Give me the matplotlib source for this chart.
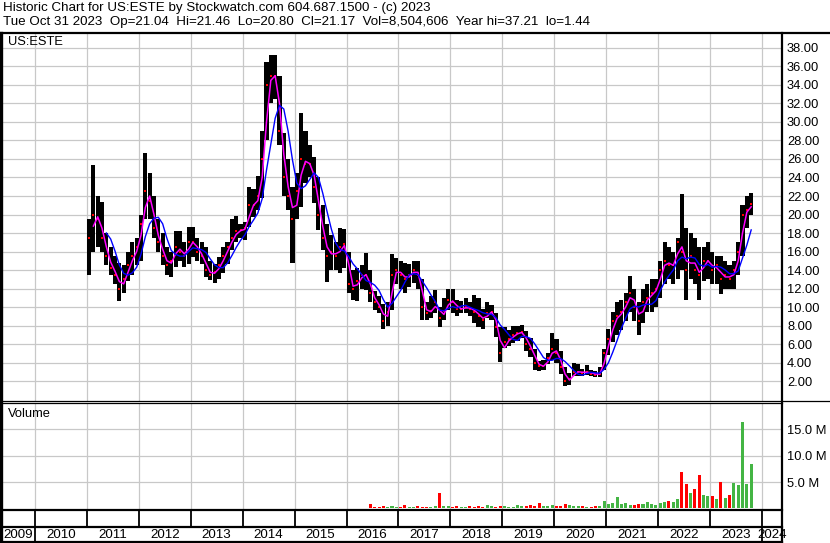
import matplotlib
matplotlib.use("Agg")
import matplotlib.pyplot as plt
import numpy as np
import pandas as pd
from matplotlib.ticker import FuncFormatter

plt.rcParams['font.family'] = ['Liberation Sans', 'DejaVu Sans']

# ---------------- data (monthly, Jan 2011 .. Oct 2023) ----------------
first_month = '2011-01'

price_high = [
    19.5, 25.3, 22.0, 21.3, 18.0, 16.5, 15.5, 14.8, 14.5, 16.0, 17.0, 17.5,   # 2011
    20.0, 26.6, 24.5, 22.0, 19.5, 18.0, 16.5, 16.0, 18.2, 18.2, 17.0, 18.6,   # 2012
    18.6, 17.5, 17.0, 16.5, 15.0, 14.7, 15.4, 16.5, 17.0, 19.5, 19.8, 19.0,   # 2013
    19.2, 23.0, 22.8, 24.2, 29.0, 36.5, 37.21, 37.2, 35.0, 28.8, 26.0, 23.0,  # 2014
    24.5, 31.0, 29.0, 27.5, 26.2, 24.0, 21.0, 19.0, 17.8, 17.0, 18.5, 18.4,   # 2015
    16.0, 14.0, 14.2, 14.5, 15.8, 14.0, 11.7, 11.2, 10.3, 10.5, 15.7, 15.3,   # 2016
    15.0, 14.8, 14.6, 15.0, 15.0, 13.0, 10.5, 11.2, 11.8, 10.0, 11.0, 11.9,   # 2017
    12.0, 10.8, 10.7, 11.0, 10.5, 11.3, 11.0, 9.8, 10.5, 10.2, 9.4, 7.8,      # 2018
    7.8, 7.5, 8.0, 8.0, 8.1, 7.4, 6.6, 5.5, 4.2, 4.3, 5.0, 7.2,               # 2019
    6.5, 5.2, 3.5, 2.9, 4.0, 3.8, 3.3, 3.7, 3.2, 3.1, 3.5, 5.5,               # 2020
    7.6, 9.5, 10.5, 10.8, 11.5, 13.3, 12.0, 10.5, 11.9, 12.5, 13.0, 13.0,     # 2021
    15.0, 17.0, 16.5, 16.0, 17.5, 22.2, 18.5, 18.0, 17.5, 16.5, 16.5, 17.0,   # 2022
    16.0, 15.5, 15.5, 15.0, 14.5, 15.0, 17.0, 21.0, 22.0, 22.3,               # 2023
]

price_low = [
    13.5, 16.0, 16.5, 16.0, 14.5, 13.5, 12.5, 10.7, 11.5, 12.8, 13.5, 14.5,   # 2011
    15.0, 19.5, 19.5, 17.5, 16.0, 14.5, 13.5, 13.2, 14.3, 15.0, 14.3, 14.7,   # 2012
    15.4, 15.0, 14.7, 13.2, 12.9, 12.6, 13.0, 13.7, 14.7, 16.2, 17.0, 17.5,   # 2013
    17.2, 18.6, 19.7, 20.5, 21.8, 28.0, 32.0, 32.5, 27.5, 22.0, 20.5, 14.8,   # 2014
    19.5, 20.8, 23.4, 24.0, 21.2, 18.3, 16.2, 12.7, 14.0, 14.0, 13.7, 14.2,   # 2015
    11.5, 10.8, 10.6, 11.9, 11.8, 10.5, 9.7, 9.3, 7.6, 8.0, 9.7, 12.5,        # 2016
    12.0, 11.5, 12.2, 12.6, 11.9, 8.6, 8.6, 8.8, 9.4, 7.8, 8.6, 9.7,          # 2017
    9.4, 9.0, 9.3, 9.4, 9.0, 8.3, 7.8, 7.6, 8.8, 8.6, 6.8, 4.1,               # 2018
    5.6, 5.8, 6.1, 6.3, 6.7, 5.2, 4.6, 3.2, 3.1, 3.2, 3.8, 4.3,               # 2019
    4.0, 2.8, 1.44, 1.6, 2.5, 2.5, 2.5, 2.6, 2.5, 2.4, 2.4, 3.2,              # 2020
    4.8, 6.2, 7.0, 7.5, 8.5, 9.5, 8.5, 7.0, 8.3, 9.5, 9.5, 10.0,              # 2021
    11.0, 12.5, 13.0, 12.5, 13.0, 14.0, 10.8, 13.0, 12.5, 10.8, 12.8, 13.0,   # 2022
    12.5, 12.5, 11.4, 12.0, 12.0, 11.9, 13.5, 15.5, 18.5, 20.0,               # 2023
]

price_close = [
    17.5, 20.0, 19.5, 17.5, 15.5, 14.2, 13.5, 12.0, 13.0, 14.5, 15.5, 16.5,   # 2011
    19.0, 22.5, 21.5, 18.5, 17.0, 15.5, 14.5, 15.0, 16.5, 16.0, 15.5, 17.0,   # 2012
    17.0, 16.0, 15.5, 14.0, 13.5, 13.8, 14.5, 15.5, 16.5, 17.5, 18.2, 18.3,   # 2013
    18.5, 21.0, 21.0, 22.0, 26.0, 34.0, 35.0, 35.0, 29.0, 24.0, 22.0, 19.5,   # 2014
    22.5, 26.0, 25.5, 25.5, 23.0, 20.0, 17.5, 15.5, 16.0, 15.5, 16.5, 16.8,   # 2015
    12.5, 12.0, 12.8, 13.5, 13.5, 11.5, 10.5, 10.0, 8.5, 9.5, 13.5, 14.0,     # 2016
    13.5, 13.0, 13.5, 14.0, 13.5, 10.0, 9.4, 9.6, 10.5, 8.8, 9.6, 10.8,       # 2017
    10.5, 9.8, 9.8, 10.0, 9.8, 9.5, 9.0, 8.6, 9.4, 9.5, 7.8, 5.0,             # 2018
    6.2, 6.5, 7.0, 7.2, 7.3, 6.0, 5.5, 4.0, 3.6, 3.6, 4.5, 5.5,               # 2019
    5.0, 3.5, 2.0, 2.2, 3.0, 3.0, 2.9, 3.0, 2.8, 2.7, 2.8, 5.0,               # 2020
    6.5, 8.5, 9.0, 9.5, 10.5, 11.5, 10.0, 8.5, 10.5, 11.0, 11.5, 12.0,        # 2021
    14.0, 15.0, 14.5, 14.5, 17.0, 16.0, 14.0, 15.5, 14.0, 13.5, 15.0, 15.0,   # 2022
    14.0, 14.5, 13.0, 13.5, 13.0, 14.0, 16.0, 20.0, 20.5, 21.17,              # 2023
]

volume_m = [
    0, 0, 0, 0, 0, 0, 0, 0, 0, 0, 0, 0,                                       # 2011
    0, 0.1, 0, 0, 0, 0, 0, 0, 0, 0, 0, 0,                                     # 2012
    0, 0, 0, 0, 0, 0, 0, 0, 0, 0, 0, 0,                                       # 2013
    0, 0, 0, 0, 0, 0, 0, 0, 0, 0, 0, 0,                                       # 2014
    0, 0, 0, 0, 0, 0, 0, 0, 0, 0, 0, 0,                                       # 2015
    0, 0, 0, 0, 0, 0.9, 0.2, 0.3, 0.5, 0.2, 0.5, 0.3,                         # 2016
    0.3, 0.6, 0.2, 0.3, 0.5, 0.3, 0.2, 0.2, 0.4, 2.9, 0.5, 0.4,               # 2017
    0.3, 0.4, 0.3, 0.2, 0.4, 0.3, 0.5, 0.3, 0.7, 0.4, 0.3, 0.5,               # 2018
    0.4, 0.3, 0.3, 0.6, 0.5, 0.4, 0.6, 0.5, 1.0, 0.4, 0.5, 0.6,               # 2019
    0.5, 0.5, 0.9, 0.6, 0.5, 0.5, 0.4, 0.3, 0.3, 0.4, 0.4, 1.4,               # 2020
    0.9, 1.0, 2.2, 0.8, 1.0, 0.7, 0.6, 0.9, 0.8, 1.2, 0.8, 0.7,               # 2021
    1.0, 1.3, 1.5, 1.3, 1.7, 6.9, 4.7, 3.0, 3.6, 6.3, 2.5, 2.4,               # 2022
    2.4, 1.8, 5.0, 2.0, 2.5, 4.8, 4.4, 16.4, 4.7, 8.5,                        # 2023
]

price_ticks = list(range(2, 40, 2))
volume_ticks = [5, 10, 15]
year_labels = list(range(2009, 2025))

header_1 = "Historic Chart for US:ESTE by Stockwatch.com 604.687.1500 - (c) 2023"
header_2 = ("Tue Oct 31 2023  Op=21.04  Hi=21.46  Lo=20.80  Cl=21.17  "
            "Vol=8,504,606  Year hi=37.21  lo=1.44")
symbol = "US:ESTE"

# ---------------- derived ----------------
months = pd.period_range(first_month, periods=len(price_close), freq='M')
t = np.asarray(months.year + (months.month - 0.5) / 12.0, dtype=float)
high = np.array(price_high)
low = np.array(price_low)
close = np.array(price_close)
vol = np.array(volume_m)
ma_short = pd.Series(close).rolling(2).mean().values
ma_long = pd.Series(close).rolling(5).mean().values
up = np.diff(close, prepend=close[0]) >= 0

# ---------------- layout ----------------
W, H = 830, 543
fig = plt.figure(figsize=(W / 100, H / 100), dpi=100)
fig.patch.set_facecolor('white')


def frame(x0, y0, x1, y1):
    return [x0 / W, 1 - y1 / H, (x1 - x0) / W, (y1 - y0) / H]


XLIM = (2009.365, 2024.385)
GRID = '#c8c8c8'
TXT = 9.3
HDR = 9.6

ax = fig.add_axes(frame(2, 33, 782, 401))
axv = fig.add_axes(frame(2, 403.5, 782, 510))
axl = fig.add_axes(frame(2, 510, 782, 542))
ov = fig.add_axes([0, 0, 1, 1])
ov.set_xlim(0, W)
ov.set_ylim(H, 0)
ov.axis('off')
ov.patch.set_alpha(0)

for a in (ax, axv, axl):
    a.set_xlim(*XLIM)
    for s in a.spines.values():
        s.set_visible(False)

# main price panel
ax.set_ylim(-0.16, 39.62)
ax.set_xticks(range(2010, 2025))
ax.set_yticks(price_ticks)
ax.grid(True, color=GRID, lw=0.9)
ax.set_axisbelow(True)
ax.yaxis.tick_right()
ax.tick_params(axis='y', length=0, pad=3.6, labelsize=TXT)
ax.tick_params(axis='x', length=0, labelbottom=False)
ax.yaxis.set_major_formatter(FuncFormatter(lambda v, p: f"{v:.2f}"))

ax.bar(t, high - low, bottom=low, width=0.95 / 12, color='black', zorder=2)
ax.scatter(t, close, marker='s', s=3, color='red', linewidths=0, zorder=3)
ax.plot(t, ma_short, color='#ff00ff', lw=1.1, zorder=4)
ax.plot(t, ma_long, color='#0000ff', lw=1.0, zorder=5)
ax.text(0.008, 0.975, symbol, transform=ax.transAxes, ha='left', va='center',
        fontsize=TXT)

# volume panel
axv.set_ylim(-0.3, 19.9)
axv.set_xticks(range(2010, 2025))
axv.set_yticks(volume_ticks)
axv.grid(True, color=GRID, lw=0.9)
axv.set_axisbelow(True)
axv.yaxis.tick_right()
axv.tick_params(axis='y', length=0, pad=3.6, labelsize=TXT)
axv.tick_params(axis='x', length=0, labelbottom=False)
axv.yaxis.set_major_formatter(FuncFormatter(lambda v, p: f"{v:.1f} M"))
axv.bar(t, vol, width=0.7 / 12,
        color=np.where(up, '#44b544', '#ff0000'), zorder=2)
axv.text(0.008, 0.9, "Volume", transform=axv.transAxes, ha='left', va='center',
         fontsize=TXT)

# year label row
axl.set_ylim(0, 1)
axl.set_xticks([])
axl.set_yticks([])
axl.patch.set_alpha(0)
axl.vlines(range(2010, 2025), 0.47, 1, color='black', lw=1.3)
axl.vlines([2010, 2024], 0, 0.47, color='black', lw=1.3)
for yr in year_labels:
    lo_, hi_ = max(yr, XLIM[0]), min(yr + 1, XLIM[1])
    axl.text((lo_ + hi_) / 2, 0.22, str(yr), ha='center', va='center',
             fontsize=HDR)

# frame lines (pixel overlay)
ov.plot([0, W], [33, 33], color='black', lw=1.6)
ov.plot([1, 1], [33, H], color='black', lw=2.4)
ov.plot([782, 782], [33, H], color='black', lw=1.6)
ov.plot([0, 782], [400.7, 400.7], color='black', lw=0.9)
ov.plot([0, 782], [403.3, 403.3], color='black', lw=0.9)
ov.plot([782, W], [401, 401], color='black', lw=0.9)
ov.plot([0, 782], [510, 510], color='black', lw=1.6)
ov.plot([0, 782], [527, 527], color='black', lw=1.6)
ov.plot([0, 782], [542, 542], color='black', lw=1.6)

ov.text(3, 8.5, header_1, ha='left', va='center', fontsize=HDR)
ov.text(3, 22, header_2, ha='left', va='center', fontsize=HDR)

fig.savefig('out.png', dpi=100, facecolor='white')
